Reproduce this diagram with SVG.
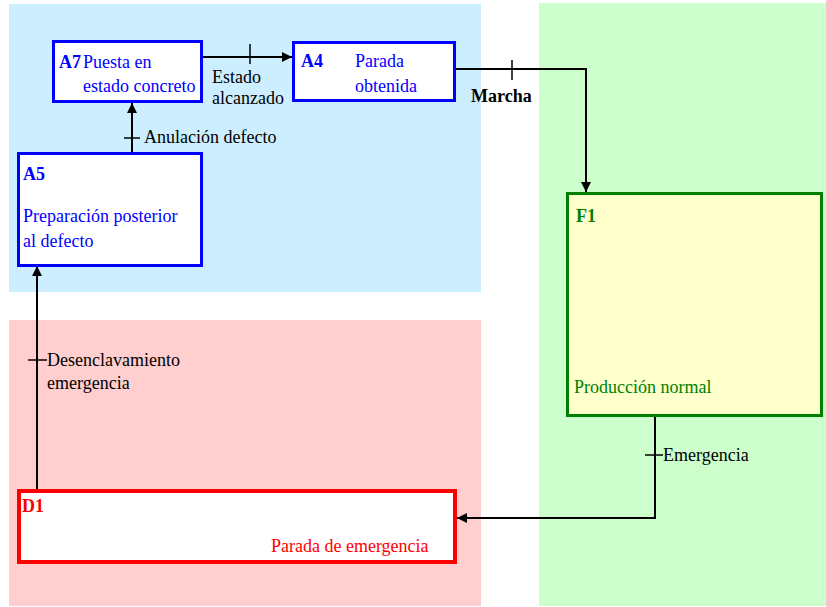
<svg xmlns="http://www.w3.org/2000/svg" width="826" height="607" viewBox="0 0 826 607" font-family="Liberation Serif, DejaVu Serif, serif" font-size="18">
  <style>
    .lbl { fill: #000; }
    .b { font-weight: bold; }
    .box { stroke-width: 3; }
    .blue { fill: #fff; stroke: #0000ff; }
    .tblue { fill: #0000ff; }
    .tgreen { fill: #008000; }
    .tred { fill: #ff0000; }
    .wire { fill: none; stroke: #000; stroke-width: 2; }
    .tick { stroke: #000; stroke-width: 1.5; }
  </style>
  <defs>
    <marker id="arr" viewBox="0 0 10 10" refX="10" refY="5" markerWidth="10" markerHeight="10" markerUnits="userSpaceOnUse" orient="auto">
      <path d="M0,0 L10,5 L0,10 Z" fill="#000"/>
    </marker>
  </defs>

  <!-- zones -->
  <g id="zones">
    <rect x="9" y="4" width="472" height="288" fill="#cceeff"/>
    <rect x="9" y="320" width="472" height="286" fill="#ffcfcf"/>
    <rect x="539" y="3" width="287" height="603" fill="#ccffcc"/>
  </g>

  <!-- connectors -->
  <g id="connectors">
    <path class="wire" d="M202,57 H292" marker-end="url(#arr)"/>
    <line class="tick" x1="250" y1="44" x2="250" y2="64"/>
    <text class="lbl" x="212" y="83">Estado</text>
    <text class="lbl" x="212" y="104">alcanzado</text>

    <path class="wire" d="M456,69 H586 V192" marker-end="url(#arr)"/>
    <line class="tick" x1="512" y1="60" x2="512" y2="80"/>
    <text class="lbl b" x="471" y="102">Marcha</text>

    <path class="wire" d="M132,152 V103" marker-end="url(#arr)"/>
    <line class="tick" x1="124" y1="138" x2="140" y2="138"/>
    <text class="lbl" x="144" y="143">Anulación defecto</text>

    <path class="wire" d="M37,489 V266" marker-end="url(#arr)"/>
    <line class="tick" x1="28" y1="360" x2="47" y2="360"/>
    <text class="lbl" x="47" y="366">Desenclavamiento</text>
    <text class="lbl" x="47" y="389">emergencia</text>

    <path class="wire" d="M655,417 V518 H457" marker-end="url(#arr)"/>
    <line class="tick" x1="645" y1="455" x2="663" y2="455"/>
    <text class="lbl" x="663" y="461">Emergencia</text>
  </g>

  <!-- A7 -->
  <g id="A7">
    <rect class="box blue" x="53.5" y="41.5" width="148" height="60"/>
    <text class="tblue b" x="59" y="68">A7</text>
    <text class="tblue" x="83" y="68">Puesta en</text>
    <text class="tblue" x="83" y="92">estado concreto</text>
  </g>

  <!-- A4 -->
  <g id="A4">
    <rect class="box blue" x="293.5" y="42.5" width="161" height="58"/>
    <text class="tblue b" x="301" y="67">A4</text>
    <text class="tblue" x="355" y="67">Parada</text>
    <text class="tblue" x="355" y="92">obtenida</text>
  </g>

  <!-- A5 -->
  <g id="A5">
    <rect class="box blue" x="18.5" y="153.5" width="183" height="112"/>
    <text class="tblue b" x="23" y="180">A5</text>
    <text class="tblue" x="23" y="222">Preparación posterior</text>
    <text class="tblue" x="23" y="247">al defecto</text>
  </g>

  <!-- F1 -->
  <g id="F1">
    <rect class="box" x="567.5" y="193.5" width="254" height="222" fill="#ffffcc" stroke="#008000"/>
    <text class="tgreen b" x="576" y="222">F1</text>
    <text class="tgreen" x="574" y="393">Producción normal</text>
  </g>

  <!-- D1 -->
  <g id="D1">
    <rect x="19" y="491" width="436" height="71" fill="#fff" stroke="#ff0000" stroke-width="4"/>
    <text class="tred b" x="22" y="512">D1</text>
    <text class="tred" x="271" y="552">Parada de emergencia</text>
  </g>
</svg>
